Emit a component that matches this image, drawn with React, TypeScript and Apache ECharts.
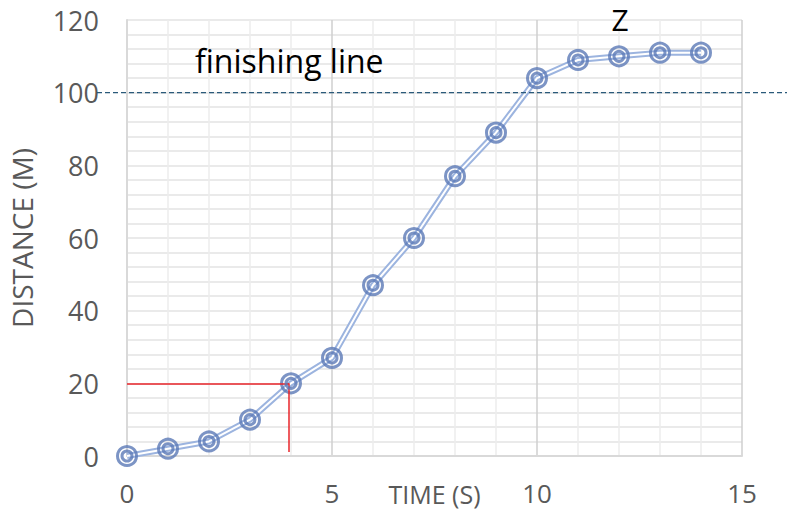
import React, { useEffect, useRef } from "react";
import * as echarts from "echarts";

const times = [0, 1, 2, 3, 4, 5, 6, 7, 8, 9, 10, 11, 12, 13, 14];
const distances = [0, 2, 4, 10, 20, 27, 47, 60, 77, 89, 104, 109, 110, 111, 111];
const finishLineValue = 100;
const markerTime = 3.95;
const markerDistance = 20;
const xTicks = [0, 5, 10, 15];
const yTicks = [0, 20, 40, 60, 80, 100, 120];

export default function App() {
  const ref = useRef<HTMLDivElement>(null);
  useEffect(() => {
    if (!ref.current) return;
    const chart = echarts.init(ref.current, null, { renderer: "svg" });
    const pts = times.map((t, i) => [t, distances[i]]);
    const font = "'Open Sans', 'Liberation Sans', sans-serif";
    chart.setOption({
      animation: false,
      grid: { left: 127, right: 45, top: 20, bottom: 57, outerBoundsMode: "none", containLabel: false },
      xAxis: {
        type: "value",
        min: xTicks[0],
        max: xTicks[xTicks.length - 1],
        interval: 5,
        name: "TIME (S)",
        nameLocation: "middle",
        nameGap: 25,
        nameMoveOverlap: false,
        nameTextStyle: { color: "#595959", fontSize: 25, fontFamily: font, lineHeight: 25 },
        axisLine: { show: true, lineStyle: { color: "#d9d9d9", width: 2 } },
        axisTick: { show: false },
        axisLabel: { color: "#595959", fontSize: 26, fontFamily: font, margin: 24, lineHeight: 26 },
        splitLine: { show: true, lineStyle: { color: "#cfcfcf", width: 1.5 } },
        minorTick: { show: false, splitNumber: 5 },
        minorSplitLine: { show: true, lineStyle: { color: "#ececec", width: 1.5 } },
      },
      yAxis: {
        type: "value",
        min: 0,
        max: yTicks[yTicks.length - 1],
        interval: 20,
        name: "DISTANCE (M)",
        nameLocation: "middle",
        nameGap: 91,
        nameMoveOverlap: false,
        nameRotate: 90,
        nameTextStyle: { color: "#595959", fontSize: 28, fontFamily: font },
        axisLine: { show: true, lineStyle: { color: "#d9d9d9", width: 2 } },
        axisTick: { show: false },
        axisLabel: { color: "#595959", fontSize: 27, fontFamily: font, margin: 28 },
        splitLine: { show: true, lineStyle: { color: "#e3e3e3", width: 1.5 } },
        minorTick: { show: false, splitNumber: 5 },
        minorSplitLine: { show: true, lineStyle: { color: "#e3e3e3", width: 1.5 } },
      },
      series: [
        {
          type: "line",
          data: pts,
          symbol: "none",
          lineStyle: { color: "#9cb4df", width: 6 },
          z: 2,
          markLine: {
            silent: true,
            symbol: "none",
            label: { show: false },
            lineStyle: { color: "#e8242a", width: 1.5, type: "solid" },
            data: [
              [{ coord: [0, markerDistance] }, { coord: [markerTime, markerDistance] }],
              [{ coord: [markerTime, markerDistance] }, { coord: [markerTime, 1.1] }],
            ],
          },
        },
        {
          type: "line",
          data: pts,
          symbol: "none",
          lineStyle: { color: "#ffffff", width: 2 },
          z: 3,
        },
        {
          type: "scatter",
          data: pts,
          symbol: "circle",
          symbolSize: 19,
          itemStyle: { color: "rgba(255,255,255,0)", borderColor: "#5b79b6", borderWidth: 3 },
          z: 4,
        },
        {
          type: "scatter",
          data: pts,
          symbol: "circle",
          symbolSize: 10,
          itemStyle: { color: "rgba(255,255,255,0)", borderColor: "#5b79b6", borderWidth: 3 },
          z: 5,
        },
      ],
    });
    const yPix = chart.convertToPixel({ yAxisIndex: 0 }, finishLineValue) as number;
    chart.setOption({
      graphic: [
        {
          type: "line",
          shape: { x1: 97, y1: yPix, x2: 787, y2: yPix },
          style: { stroke: "#2a5a7a", lineWidth: 1.3, lineDash: [5, 3] },
          z: 10,
        },
        {
          type: "text",
          x: 195,
          y: 60,
          style: {
            text: "finishing line",
            fill: "#000000",
            fontSize: 32,
            fontFamily: font,
            textAlign: "left",
            textVerticalAlign: "middle",
          },
          z: 10,
        },
        {
          type: "text",
          x: 620,
          y: 19,
          style: {
            text: "Z",
            fill: "#000000",
            fontSize: 30,
            fontFamily: font,
            textAlign: "center",
            textVerticalAlign: "middle",
          },
          z: 10,
        },
      ],
    });
    return () => chart.dispose();
  }, []);
  return <div ref={ref} style={{ width: 787, height: 513, position: "absolute", left: 0, top: 0 }} />;
}
